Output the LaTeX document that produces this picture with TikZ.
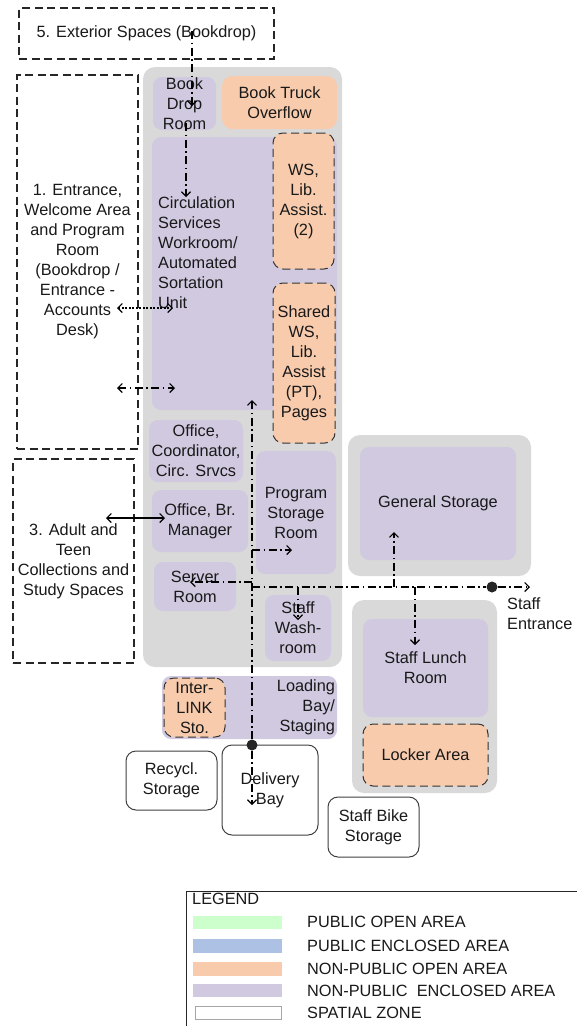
\documentclass[tikz,border=0pt]{standalone}
\usepackage{fontspec}
\setmainfont{Liberation Sans}
\usetikzlibrary{arrows.meta}

\definecolor{bggray}{RGB}{217,217,217}
\definecolor{lilac}{RGB}{209,201,224}
\definecolor{peach}{RGB}{248,203,173}
\definecolor{mint}{RGB}{204,255,204}
\definecolor{paleblue}{RGB}{172,193,227}

\begin{document}
\begin{tikzpicture}[x = 1pt, y = -1pt, font = \fontsize{16.3}{20}\selectfont,
    every node/.style = {inner sep = 0pt, align = center, text = black!90},
    zonebox/.style = {draw = black!85, line width = 1.3pt, dash pattern = on 8pt off 4.5pt},
    wing/.style = {fill = bggray, rounded corners = 12pt},
    lilacbox/.style = {fill = lilac, rounded corners = 9pt},
    peachbox/.style = {fill = peach, rounded corners = 10pt},
    peachzone/.style = {peachbox, draw = black!80, line width = 1pt, dash pattern = on 8pt off 4.5pt},
    plainbox/.style = {draw = black!75, line width = 1pt, rounded corners = 10pt, fill = white},
    flow/.style = {line width = 1.1pt, dash pattern = on 8pt off 3.5pt on 1.5pt off 3.5pt},
    joint/.style = {circle, fill = black!85, minimum size = 11pt},
    >= {Straight Barb[length = 4.5pt, width = 9pt]}]
  \useasboundingbox (0,0) rectangle (577,1026);

  % zones
  \node (EXT) at (146.5, 33.5) [zonebox, minimum width = 255pt, minimum height = 51pt] {5. Exterior Spaces (Bookdrop)};
  \node (ENT) at (77.5, 262) [zonebox, minimum width = 121pt, minimum height = 374pt] {1. Entrance,\\Welcome Area\\and Program\\Room\\(Bookdrop /\\Entrance -\\Accounts\\Desk)};
  \node (ADT) at (73.5, 561) [zonebox, minimum width = 121pt, minimum height = 204pt] {3. Adult and\\Teen\\Collections and\\Study Spaces};

  % staff wing
  \node (WING) at (242.5, 367) [wing, minimum width = 199pt, minimum height = 600pt] {};
  \node (BDR) at (184.5, 103.5) [lilacbox, minimum width = 63pt, minimum height = 53pt] {Book\\Drop\\Room};
  \node (BTO) at (279.5, 102.5) [peachbox, minimum width = 115pt, minimum height = 53pt] {Book Truck\\Overflow};
  \node (CSW) at (244.5, 273.5) [lilacbox, minimum width = 185pt, minimum height = 273pt] {};
  \node (CSWt) at (158, 253) [anchor = west, align = left] {Circulation\\Services\\Workroom/\\Automated\\Sortation\\Unit};
  \node (WS) at (303.5, 201) [peachzone, minimum width = 61pt, minimum height = 136pt] {WS,\\Lib.\\Assist.\\(2)};
  \node (SWS) at (304, 363) [peachzone, minimum width = 62pt, minimum height = 160pt] {Shared\\WS,\\Lib.\\Assist\\(PT),\\Pages};
  \node (OCO) at (196, 451) [lilacbox, minimum width = 94pt, minimum height = 62pt] {Office,\\Coordinator,\\Circ. Srvcs};
  \node (OBM) at (200, 521) [lilacbox, minimum width = 96pt, minimum height = 62pt] {Office, Br.\\Manager};
  \node (SRV) at (195, 586.5) [lilacbox, minimum width = 82pt, minimum height = 49pt] {Server\\Room};
  \node (PSR) at (296, 512.5) [lilacbox, minimum width = 80pt, minimum height = 123pt] {Program\\Storage\\Room};
  \node (SWR) at (298, 628) [lilacbox, minimum width = 66pt, minimum height = 66pt] {Staff\\Wash-\\room};

  % loading and outside
  \node (LBS) at (249.5, 707.5) [lilacbox, minimum width = 175pt, minimum height = 63pt, text width = 171pt, align = right] {Loading\\Bay/\\Staging};
  \node (ILS) at (194.5, 707.5) [peachzone, minimum width = 61pt, minimum height = 59pt] {Inter-\\LINK\\Sto.};
  \node (RCS) at (171.5, 780.5) [plainbox, minimum width = 91pt, minimum height = 59pt] {Recycl.\\Storage};
  \node (DLB) at (270, 790) [plainbox, minimum width = 96pt, minimum height = 90pt] {Delivery\\Bay};
  \node (SBS) at (373.5, 827) [plainbox, minimum width = 91pt, minimum height = 60pt] {Staff Bike\\Storage};

  % storage and lunch blocks
  \node (RG1) at (439.5, 505.5) [wing, minimum width = 183pt, minimum height = 141pt] {};
  \node (GST) at (438, 503.5) [lilacbox, minimum width = 156pt, minimum height = 113pt] {General Storage};
  \node (RG2) at (424.5, 696.5) [wing, minimum width = 145pt, minimum height = 193pt] {};
  \node (SLR) at (425.5, 668) [lilacbox, minimum width = 125pt, minimum height = 98pt] {Staff Lunch\\Room};
  \node (LKA) at (425.5, 755) [peachzone, minimum width = 125pt, minimum height = 62pt] {Locker Area};
  \node (SEt) at (507, 614) [anchor = west, align = left] {Staff\\Entrance};

  % flow ends
  \coordinate (bdTop) at (192, 31);
  \coordinate (bdIn) at (192, 106);
  \coordinate (bdOut) at (186, 123);
  \coordinate (csIn) at (186, 197);
  \coordinate (dkL) at (117, 308);
  \coordinate (dkR) at (173, 308);
  \coordinate (enL) at (117, 388);
  \coordinate (enR) at (175, 388);
  \coordinate (adL) at (106, 518);
  \coordinate (adR) at (165, 518);
  \coordinate (spUp) at (252, 400);
  \coordinate (spDn) at (252, 805);
  \coordinate (psA) at (252, 550);
  \coordinate (psB) at (292, 550);
  \coordinate (svA) at (252, 582);
  \coordinate (svB) at (190, 582);
  \coordinate (hA) at (252, 587);
  \coordinate (hB) at (530, 587);
  \coordinate (gsA) at (394, 587);
  \coordinate (gsB) at (394, 532);
  \coordinate (lrA) at (415, 587);
  \coordinate (lrB) at (415, 645);
  \coordinate (wrA) at (298, 587);
  \coordinate (wrB) at (298, 620);
  \node (LD) at (252, 745) [joint] {};
  \node (SE) at (492, 587) [joint] {};

  \draw[flow, ->] (bdTop) -- (bdIn);
  \draw[flow, ->] (bdOut) -- (csIn);
  \draw[line width = 1.1pt, dash pattern = on 2pt off 1.5pt, <->] (dkL) -- (dkR);
  \draw[flow, <->] (enL) -- (enR);
  \draw[line width = 1.1pt, <->] (adL) -- (adR);
  \draw[flow, ->] (LD) -- (spUp);
  \draw[flow, ->] (LD) -- (spDn);
  \draw[flow, ->] (psA) -- (psB);
  \draw[flow, ->] (svA) -- (svB);
  \draw[flow] (hA) -- (SE);
  \draw[flow, ->] (SE) -- (hB);
  \draw[flow, ->] (gsA) -- (gsB);
  \draw[flow, ->] (lrA) -- (lrB);
  \draw[flow, ->] (wrA) -- (wrB);

  % legend
  \draw[line width = 1pt, black!85] (186, 1060) |- (620, 891);
  \node (LEG) at (192, 899) [anchor = west] {LEGEND};
  \node (K1) at (237.5, 922) [fill = mint, minimum width = 89pt, minimum height = 13pt] {};
  \node (K2) at (237.5, 946) [fill = paleblue, minimum width = 89pt, minimum height = 14pt] {};
  \node (K3) at (237.5, 969) [fill = peach, minimum width = 89pt, minimum height = 14pt] {};
  \node (K4) at (237.5, 990.5) [fill = lilac, minimum width = 89pt, minimum height = 13pt] {};
  \node (K5) at (238, 1012.5) [draw = black!35, line width = 1pt, minimum width = 86pt, minimum height = 13pt] {};
  \node (T1) at (307, 922) [anchor = west] {PUBLIC OPEN AREA};
  \node (T2) at (307, 946) [anchor = west] {PUBLIC ENCLOSED AREA};
  \node (T3) at (307, 969) [anchor = west] {NON-PUBLIC OPEN AREA};
  \node (T4) at (307, 990.5) [anchor = west] {NON-PUBLIC\ \ ENCLOSED AREA};
  \node (T5) at (307, 1012.5) [anchor = west] {SPATIAL ZONE};
\end{tikzpicture}
\end{document}
